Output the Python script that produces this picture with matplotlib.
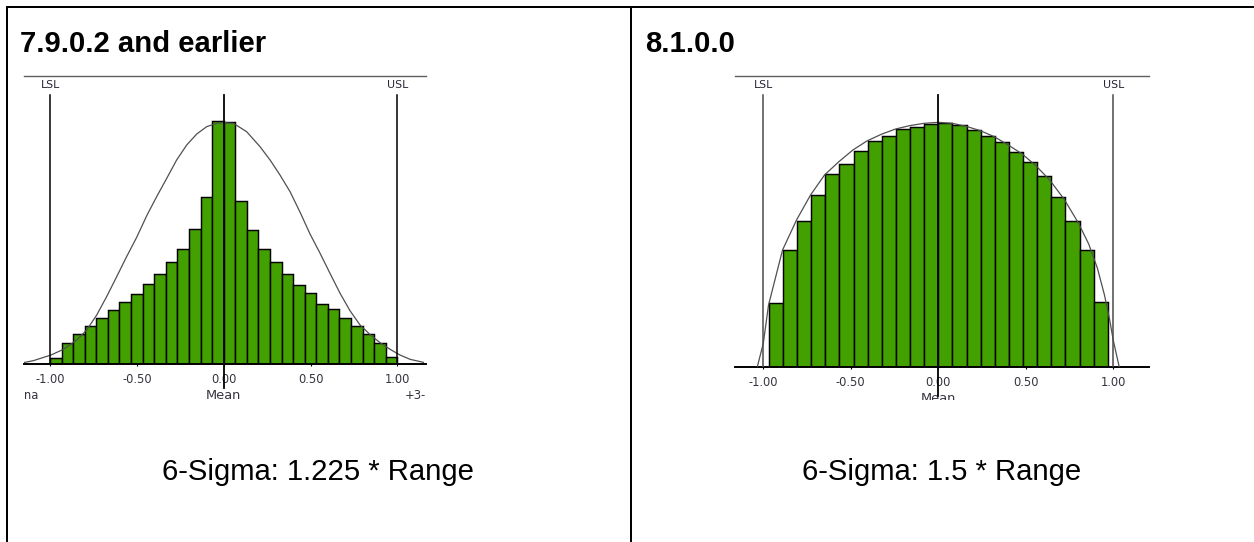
import numpy as np
import matplotlib
matplotlib.use("Agg")
import matplotlib.pyplot as plt
from matplotlib.lines import Line2D
from matplotlib.transforms import Bbox

# ---------------- data ----------------
left_title = "7.9.0.2 and earlier"
right_title = "8.1.0.0"
left_caption = "6-Sigma: 1.225 * Range"
right_caption = "6-Sigma: 1.5 * Range"

tick_values = [-1.0, -0.5, 0.0, 0.5, 1.0]
tick_labels = ["-1.00", "-0.50", "0.00", "0.50", "1.00"]
lsl_value, usl_value, mean_value = -1.0, 1.0, 0.0

# left histogram (7.9.0.2 and earlier)
left_counts = [17, 62, 90, 115, 139, 162, 185, 209, 241, 269, 305, 346, 405, 501, 728,
               725, 490, 402, 346, 305, 269, 237, 212, 181, 164, 139, 115, 90, 62, 20]
left_bin_start = -1.0
left_bin_width = 2.0 / 30
left_curve_x = [-1.154, -1.096, -0.994, -0.923, -0.846, -0.789, -0.731, -0.674, -0.616,
                -0.559, -0.501, -0.443, -0.386, -0.328, -0.271, -0.213, -0.155, -0.098,
                -0.040, 0.0, 0.056, 0.132, 0.209, 0.267, 0.324, 0.382, 0.440, 0.497,
                0.555, 0.612, 0.670, 0.727, 0.785, 0.843, 0.900, 0.958, 1.015, 1.073, 1.150]
left_curve_y = [4, 10, 27, 44, 72, 102, 147, 202, 262, 322, 380, 445, 502, 557, 612, 657,
                690, 712, 722, 724, 722, 697, 652, 612, 567, 517, 455, 390, 332, 272, 212,
                160, 117, 88, 64, 44, 27, 14, 5]
left_ymax = 864

# right histogram (8.1.0.0)
right_counts = [192, 351, 438, 516, 577, 608, 648, 676, 693, 714, 720, 728,
                731, 724, 711, 693, 675, 643, 615, 573, 508, 438, 350, 195]
right_bin_start = -0.968
right_bin_width = 0.0807
right_curve_x = [-1.034, -1.0, -0.97, -0.924, -0.89, -0.81, -0.73, -0.65, -0.568, -0.488,
                 -0.408, -0.326, -0.244, -0.164, -0.082, 0.0, 0.08, 0.16, 0.24, 0.32, 0.40,
                 0.48, 0.56, 0.64, 0.72, 0.80, 0.86, 0.91, 0.95, 0.98, 1.00, 1.034]
right_curve_y = [0, 70, 185, 280, 350, 440, 515, 575, 615, 650, 677, 697, 713, 723, 730,
                 733, 730, 721, 708, 690, 665, 638, 602, 558, 502, 432, 368, 295, 215, 140,
                 80, 0]
right_ymax = 872

# ---------------- layout ----------------
W, H = 1254, 542
DPI = 100
fig = plt.figure(figsize=(W / DPI, H / DPI), dpi=DPI)
fig.patch.set_facecolor("white")


def fx(px):
    return px / W


def fy(py):
    return 1 - py / H


BAR_GREEN = "#42A100"
TICK_COL = "#34343f"
LABEL_COL = "#2a2438"

# table borders
bw = 2.0 * 72 / DPI
fig.add_artist(Line2D([fx(6), fx(1254)], [fy(7), fy(7)], color="black", lw=bw,
                      solid_capstyle="butt"))
fig.add_artist(Line2D([fx(7), fx(7)], [fy(6), fy(542)], color="black", lw=bw,
                      solid_capstyle="butt"))
fig.add_artist(Line2D([fx(631), fx(631)], [fy(6), fy(542)], color="black", lw=bw,
                      solid_capstyle="butt"))

# titles & captions
title_fs = 29.3 * 72 / DPI
fig.text(fx(20.5), fy(52), left_title, fontsize=title_fs, fontweight="bold",
         family="Liberation Sans", va="baseline", ha="left")
fig.text(fx(645), fy(52), right_title, fontsize=title_fs, fontweight="bold",
         family="Liberation Sans", va="baseline", ha="left")
fig.text(fx(318), fy(480), left_caption, fontsize=title_fs, family="Liberation Sans",
         va="baseline", ha="center")
fig.text(fx(942), fy(480), right_caption, fontsize=title_fs, family="Liberation Sans",
         va="baseline", ha="center")


def make_chart(px_left, px_right, px_top, px_bottom, xlim, counts, bin_start, bin_width,
               curve_x, curve_y, ymax, spec_col, mean_bottom_px, mean_label_y, clip_y):
    ax = fig.add_axes([fx(px_left), fy(px_bottom), (px_right - px_left) / W,
                       (px_bottom - px_top) / H])
    ax.set_facecolor("white")
    n = len(counts)
    lefts = bin_start + bin_width * np.arange(n)
    ax.bar(lefts, counts, width=bin_width, align="edge", color=BAR_GREEN,
           edgecolor="black", linewidth=1.05, zorder=2)
    ax.plot(curve_x, curve_y, color="#505050", lw=0.9, zorder=3)
    ax.set_xlim(*xlim)
    ax.set_ylim(0, ymax)
    h = px_bottom - px_top
    spec_top = (px_bottom - 95) / h
    for v in (lsl_value, usl_value):
        ax.axvline(v, ymin=0, ymax=spec_top, color=spec_col, lw=1.1, zorder=4)
    ax.axvline(mean_value, ymin=(px_bottom - mean_bottom_px) / h, ymax=spec_top,
               color="black", lw=1.3, zorder=5, clip_on=False)
    lab_fs = 7.9
    ax.text(lsl_value, (px_bottom - 85) / h, "LSL", transform=ax.get_xaxis_transform(),
            ha="center", va="center", fontsize=lab_fs, color=LABEL_COL)
    ax.text(usl_value, (px_bottom - 85) / h, "USL", transform=ax.get_xaxis_transform(),
            ha="center", va="center", fontsize=lab_fs, color=LABEL_COL)
    for s in ("left", "right"):
        ax.spines[s].set_visible(False)
    ax.spines["top"].set_color("#606060")
    ax.spines["top"].set_linewidth(1.0)
    ax.spines["bottom"].set_color("black")
    ax.spines["bottom"].set_linewidth(1.4)
    ax.set_yticks([])
    ax.set_xticks(tick_values)
    ax.set_xticklabels(tick_labels)
    ax.tick_params(axis="x", length=1.5, width=0.8, pad=5.0, labelsize=8.3,
                   labelcolor=TICK_COL, color="black")
    t = ax.text(mean_value, mean_label_y, "Mean", transform=ax.get_xaxis_transform(),
                ha="center", va="center", fontsize=9.4, color=TICK_COL)
    t.set_clip_on(True)
    t.set_clip_box(Bbox.from_extents(px_left, H - clip_y, px_right, H - 60))
    return ax


axL = make_chart(24, 426, 76, 364, (-1.1497, 1.1647), left_counts, left_bin_start,
                 left_bin_width, left_curve_x, left_curve_y, left_ymax, "black",
                 388, (364 - 395.5) / 288, 403)
fig.text(fx(24), fy(395.5), "na", fontsize=8.3, color=TICK_COL, ha="left", va="center")
fig.text(fx(426), fy(395.5), "+3-", fontsize=8.3, color=TICK_COL, ha="right", va="center")

axR = make_chart(735, 1148.5, 76, 366.7, (-1.1617, 1.2017), right_counts, right_bin_start,
                 right_bin_width, right_curve_x, right_curve_y, right_ymax, "#4a4a4a",
                 396, (366.7 - 398.5) / 290.7, 399.5)

fig.savefig("out.png", dpi=DPI, facecolor="white")
